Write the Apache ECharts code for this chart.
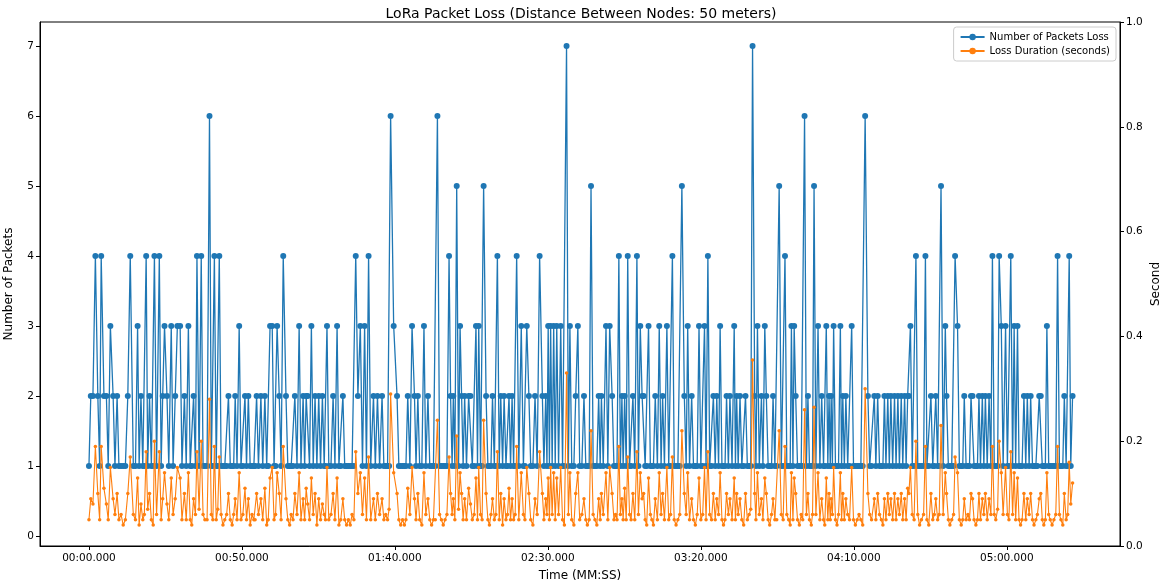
<!DOCTYPE html>
<html>
<head>
<meta charset="utf-8">
<script src="https://cdn.jsdelivr.net/npm/echarts@6/dist/echarts.min.js"></script>
<style>html,body{margin:0;padding:0;background:#fff}#c{width:1162px;height:581px}</style>
</head>
<body>
<div id="c"></div>
<script>
// time of each loss event, seconds from start
const times = [
0,0.6,1.3,2.1,2.9,3.5,4.0,4.9,5.7,6.3,
7.0,7.9,8.5,9.2,9.8,10.5,11.2,11.9,12.7,13.5,
14.5,15.2,15.9,16.4,17.0,17.6,18.1,18.7,19.2,19.8,
20.4,21.0,21.4,22.1,23.0,23.6,24.1,24.7,25.5,26.1,
26.9,27.5,28.2,28.9,29.8,30.4,31.2,31.8,32.5,33.1,
33.6,34.2,34.8,35.3,36.0,36.7,37.3,37.9,38.6,39.4,
40.0,40.5,41.0,41.6,42.1,42.6,43.2,43.8,44.4,45.0,
45.6,46.2,46.8,47.3,47.8,48.4,49.1,49.7,50.3,51.0,
51.5,52.1,52.7,53.3,53.9,54.3,54.8,55.4,56.2,56.8,
57.5,58.1,58.6,59.2,59.9,60.5,61.0,61.5,62.2,62.8,
63.5,64.4,65.0,65.6,66.1,66.7,67.3,68.0,68.7,69.3,
70.0,70.5,71.0,71.5,72.1,72.7,73.3,73.9,74.5,75.1,
75.7,76.3,76.9,77.3,77.8,78.4,79.1,79.8,80.4,81.1,
81.7,82.3,83.0,83.6,84.2,84.8,85.4,86.0,86.6,87.2,
87.9,88.7,89.4,90.1,90.7,91.4,92.1,93.0,93.6,94.3,
95.0,95.8,96.4,97.0,97.6,98.1,98.6,99.6,100.7,101.3,
101.9,102.5,103.1,103.6,104.2,104.9,105.6,106.4,106.9,107.5,
108.1,108.8,109.5,110.1,110.8,111.4,112.0,112.6,113.2,113.9,
114.6,115.2,115.8,116.4,117.0,117.7,118.2,118.7,119.1,119.6,
120.2,120.8,121.3,121.8,122.3,122.8,123.4,124.1,124.7,125.3,
125.9,126.5,127.0,127.4,128.0,128.5,129.0,129.8,130.4,130.9,
131.4,131.9,132.5,133.0,133.5,134.1,134.6,135.2,135.7,136.3,
136.8,137.3,137.8,138.3,138.8,139.3,139.8,140.5,141.3,142.0,
142.5,143.1,143.8,144.4,145.1,145.8,146.5,147.3,148.2,148.7,
149.3,149.7,150.1,150.5,150.9,151.4,151.9,152.4,152.9,153.5,
154.2,154.8,155.4,156.1,156.7,157.2,157.8,158.5,159.1,159.8,
160.4,161.1,161.8,162.4,162.9,163.5,164.1,164.8,165.4,166.0,
166.6,167.1,167.5,168.1,169.0,169.6,170.2,171.0,171.6,172.1,
172.6,173.2,173.7,174.2,174.6,175.1,175.6,176.1,176.7,177.2,
177.8,178.4,179.1,179.6,180.2,180.8,181.3,181.8,182.3,182.9,
183.5,184.0,184.5,185.1,185.8,186.4,187.0,187.5,188.1,188.9,
189.5,190.1,190.7,191.3,191.9,192.5,193.1,193.8,194.6,195.2,
195.7,196.3,197.0,197.6,198.2,198.8,199.4,200.0,200.6,201.2,
201.7,202.3,202.9,203.5,204.1,204.7,205.2,205.8,206.3,206.9,
207.4,207.9,208.4,209.0,209.5,210.2,210.9,211.3,211.7,212.2,
212.8,213.4,214.0,214.6,215.2,215.8,216.3,216.9,217.6,218.0,
218.5,219.1,219.8,220.3,220.9,221.4,222.0,222.5,223.1,223.6,
224.2,224.8,225.6,226.3,226.9,227.5,228.1,228.7,229.2,229.6,
230.1,230.5,231.0,231.6,232.2,232.8,233.3,233.9,234.5,235.0,
235.5,236.1,236.5,237.0,237.6,238.3,238.9,239.5,240.1,240.5,
241.0,241.5,241.9,242.3,242.6,243.0,243.4,244.0,244.5,245.0,
245.6,246.0,246.4,246.9,247.4,248.0,248.6,249.3,249.9,250.5,
251.1,251.7,252.3,252.9,253.7,254.6,255.2,255.8,256.7,257.2,
257.8,258.4,259.0,259.5,260.0,260.5,261.1,261.6,262.1,262.7,
263.3,263.8,264.4,264.9,265.5,266.0,266.6,267.1,267.6,268.0,
268.5,269.1,269.7,270.3,270.9,271.5,272.1,272.8,273.4,273.9,
274.5,275.2,275.8,276.3,276.8,277.4,277.9,278.5,279.2,279.9,
280.3,280.9,281.4,282.0,282.6,283.1,283.9,284.5,285.1,285.6,
286.1,286.7,287.3,287.8,288.3,288.8,289.3,289.9,290.4,290.9,
291.4,292.0,292.5,293.0,293.6,294.2,294.8,295.3,295.9,296.4,
297.0,297.5,298.2,298.8,299.6,300.2,300.7,301.3,301.9,302.4,
302.9,303.5,304.0,304.5,305.0,305.6,306.2,306.7,307.3,307.8,
308.4,308.9,309.5,310.0,310.6,311.1,311.6,312.1,312.6,313.1,
313.7,314.2,314.8,315.4,316.0,316.6,317.2,317.7,318.3,318.8,
319.4,319.9,320.4,320.9,321.5
];
// number of packets lost per event
const packetsLost = [
1,2,2,4,2,1,4,2,2,1,
3,2,1,2,1,1,1,1,2,4,
1,1,3,1,2,1,1,4,1,2,
1,1,4,1,4,1,2,3,2,1,
3,1,2,3,3,1,2,1,3,1,
1,2,1,4,1,4,1,1,1,6,
1,1,4,1,1,4,1,1,1,1,
2,1,1,1,2,1,3,1,1,2,
1,2,1,1,1,1,2,1,2,1,
2,1,1,3,3,1,1,3,2,1,
4,2,1,1,1,1,2,1,3,1,
2,1,2,2,1,3,1,2,1,2,
1,2,1,1,3,1,1,2,1,3,
1,1,2,1,1,1,1,1,1,4,
2,3,1,3,1,4,1,2,1,2,
1,2,1,1,1,1,6,3,2,1,
1,1,1,1,2,1,3,2,1,2,
1,1,3,1,2,1,1,1,1,6,
1,1,1,1,1,4,2,1,2,1,
5,1,3,2,1,2,1,2,2,1,
1,3,1,3,1,1,5,2,1,1,
1,2,1,1,4,1,2,1,2,1,
1,2,1,2,1,1,4,1,3,1,
1,3,2,1,1,2,1,4,2,1,
2,1,3,1,3,1,3,1,3,1,
3,1,1,7,1,3,1,1,2,3,
1,1,2,1,1,1,5,1,1,1,
2,1,2,1,3,1,3,2,1,1,
1,4,1,2,1,2,1,4,1,1,
2,1,4,1,3,2,2,1,1,3,
1,1,1,2,1,3,1,2,1,3,
1,1,4,1,1,1,1,5,2,1,
3,1,2,1,1,1,3,1,1,3,
1,4,1,1,2,1,2,1,3,1,
1,1,2,1,2,1,3,1,2,1,
2,1,1,2,1,1,1,7,2,1,
3,1,2,1,3,2,1,1,1,2,
1,1,5,1,1,4,1,1,1,3,
1,3,2,1,1,1,1,6,1,2,
1,1,1,5,1,3,1,2,1,1,
3,1,2,1,2,1,3,1,1,1,
3,1,2,1,2,1,1,3,1,1,
1,1,1,1,6,2,1,1,2,1,
2,1,1,1,2,1,2,1,2,1,
2,1,2,1,2,1,2,1,2,2,
3,1,1,4,1,1,1,1,4,1,
1,2,1,1,2,1,1,5,1,3,
2,1,1,1,1,4,3,1,1,1,
2,1,1,1,2,2,1,1,1,2,
1,2,1,2,1,2,1,4,1,1,
1,4,3,1,3,1,1,4,1,3,
1,3,1,1,1,2,1,2,1,2,
1,1,1,1,2,2,1,1,1,3,
1,1,1,1,1,4,1,1,1,2,
1,1,4,1,2
];
// loss duration per event, seconds
const lossDuration = [
.05,.09,.08,.19,.10,.05,.19,.11,.08,.05,
.15,.09,.06,.10,.05,.06,.04,.05,.10,.17,
.06,.05,.13,.04,.08,.05,.06,.18,.07,.10,
.05,.04,.20,.06,.18,.05,.09,.14,.08,.05,
.13,.06,.09,.15,.13,.05,.10,.05,.14,.05,
.04,.09,.06,.18,.07,.20,.06,.05,.05,.28,
.06,.05,.19,.05,.07,.17,.06,.04,.05,.06,
.10,.05,.04,.06,.09,.05,.14,.05,.06,.11,
.05,.09,.04,.06,.05,.05,.10,.06,.09,.05,
.11,.04,.05,.13,.15,.05,.06,.14,.10,.05,
.19,.09,.05,.04,.06,.05,.10,.06,.14,.05,
.09,.05,.11,.08,.05,.13,.06,.10,.04,.09,
.05,.08,.06,.05,.15,.05,.06,.10,.05,.13,
.04,.05,.09,.05,.04,.05,.04,.06,.05,.18,
.10,.14,.06,.13,.05,.17,.05,.09,.05,.10,
.06,.09,.05,.06,.05,.07,.29,.14,.10,.05,
.04,.05,.04,.05,.11,.06,.15,.09,.05,.10,
.05,.04,.14,.06,.09,.05,.04,.05,.05,.24,
.06,.05,.04,.05,.06,.17,.10,.06,.09,.05,
.21,.07,.14,.10,.05,.09,.05,.11,.08,.05,
.06,.13,.05,.15,.06,.05,.24,.10,.05,.04,
.06,.09,.05,.06,.18,.05,.10,.04,.09,.05,
.06,.11,.05,.09,.05,.06,.19,.05,.14,.06,
.05,.15,.10,.05,.04,.09,.06,.18,.10,.05,
.09,.06,.13,.05,.15,.06,.14,.05,.13,.06,
.15,.05,.04,.33,.06,.14,.05,.04,.10,.14,
.05,.06,.09,.05,.04,.05,.22,.06,.05,.04,
.09,.05,.10,.06,.14,.05,.15,.10,.05,.06,
.05,.19,.06,.09,.05,.11,.05,.17,.06,.05,
.10,.05,.18,.06,.14,.09,.10,.05,.04,.13,
.06,.05,.04,.09,.05,.14,.06,.10,.05,.15,
.05,.06,.17,.05,.04,.05,.06,.22,.10,.06,
.14,.05,.09,.05,.04,.06,.13,.05,.06,.15,
.05,.18,.06,.05,.10,.05,.09,.06,.14,.05,
.04,.05,.10,.06,.09,.05,.13,.05,.10,.06,
.09,.05,.04,.10,.05,.06,.07,.355,.10,.05,
.14,.06,.09,.05,.13,.10,.05,.04,.06,.09,
.05,.05,.22,.06,.05,.19,.06,.05,.04,.14,
.05,.13,.10,.05,.04,.06,.05,.26,.06,.10,
.05,.04,.06,.265,.06,.14,.05,.09,.05,.04,
.13,.05,.10,.05,.09,.06,.15,.05,.04,.06,
.14,.05,.10,.05,.09,.06,.05,.15,.05,.04,
.05,.06,.05,.04,.30,.10,.06,.05,.09,.05,
.10,.06,.05,.04,.09,.05,.10,.06,.09,.05,
.10,.05,.09,.06,.10,.05,.09,.05,.11,.10,
.15,.06,.05,.20,.06,.04,.05,.06,.19,.05,
.04,.10,.05,.06,.09,.05,.06,.23,.06,.14,
.10,.05,.04,.05,.06,.17,.14,.05,.04,.05,
.09,.05,.06,.05,.10,.09,.05,.04,.05,.10,
.05,.09,.06,.10,.05,.09,.06,.19,.06,.05,
.07,.20,.14,.06,.15,.06,.05,.18,.06,.14,
.05,.13,.05,.04,.05,.10,.05,.09,.06,.10,
.05,.04,.05,.06,.09,.10,.05,.04,.05,.14,
.06,.05,.04,.05,.06,.19,.06,.05,.04,.10,
.05,.06,.16,.08,.12
];
const xTickValues = [0, 50, 100, 150, 200, 250, 300];
const yLeftTickValues = [0, 1, 2, 3, 4, 5, 6, 7];

function fmtTime(v) {
  const m = Math.floor(v / 60), s = Math.round(v - m * 60);
  return String(m).padStart(2, '0') + ':' + String(s).padStart(2, '0') + '.000';
}

const chart = echarts.init(document.getElementById('c'), null, { renderer: 'canvas' });
const font = 'DejaVu Sans';
chart.setOption({
  animation: false,
  backgroundColor: '#fff',
  textStyle: { fontFamily: font },
  title: {
    text: 'LoRa Packet Loss (Distance Between Nodes: 50 meters)',
    left: 'center', top: 2,
    textStyle: { fontFamily: font, fontSize: 14, fontWeight: 'normal', color: '#000' }
  },
  legend: {
    orient: 'vertical', right: 46, top: 27,
    backgroundColor: '#fff', borderColor: '#ccc', borderWidth: 1, borderRadius: 3,
    padding: [5, 6, 5, 6], itemGap: 4, itemWidth: 24, itemHeight: 8,
    textStyle: { fontFamily: font, fontSize: 10, color: '#000' },
    data: ['Number of Packets Loss', 'Loss Duration (seconds)']
  },
  grid: { left: 40, right: 42, top: 22, bottom: 35, show: true, borderColor: '#000', borderWidth: 1, containLabel: false, outerBoundsMode: 'none' },
  xAxis: {
    type: 'value', min: -16, max: 337,
    name: 'Time (MM:SS)', nameLocation: 'middle', nameGap: 24,
    nameTextStyle: { fontFamily: font, fontSize: 12, color: '#000' },
    axisLine: { onZero: false, lineStyle: { color: '#000' } },
    axisTick: { customValues: xTickValues, length: 4, lineStyle: { color: '#000' } },
    axisLabel: { customValues: xTickValues, formatter: fmtTime, fontSize: 10.5, color: '#000', margin: 7 },
    splitLine: { show: false }
  },
  yAxis: [{
    type: 'value', min: -0.143, max: 7.343, position: 'left',
    name: 'Number of Packets', nameLocation: 'middle', nameGap: 25, nameRotate: 90,
    nameTextStyle: { fontFamily: font, fontSize: 12, color: '#000' },
    axisLine: { show: true, onZero: false, lineStyle: { color: '#000' } },
    axisTick: { show: true, customValues: yLeftTickValues, length: 4, lineStyle: { color: '#000' } },
    axisLabel: { customValues: yLeftTickValues, fontSize: 10.5, color: '#000', margin: 6 },
    splitLine: { show: false }
  }, {
    type: 'value', min: 0, max: 1, interval: 0.2, position: 'right',
    name: 'Second', nameLocation: 'middle', nameGap: 30, nameRotate: 90, nameMoveOverlap: false,
    nameTextStyle: { fontFamily: font, fontSize: 12, color: '#000' },
    axisLine: { show: true, onZero: false, lineStyle: { color: '#000' } },
    axisTick: { show: true, length: 4, lineStyle: { color: '#000' } },
    axisLabel: { formatter: v => v.toFixed(1), fontSize: 10.5, color: '#000', margin: 6 },
    splitLine: { show: false }
  }],
  series: [{
    name: 'Number of Packets Loss', type: 'line', yAxisIndex: 0,
    data: times.map((t, i) => [t, packetsLost[i]]),
    symbol: 'circle', symbolSize: 6, showAllSymbol: true,
    itemStyle: { color: '#1f77b4' },
    lineStyle: { color: '#1f77b4', width: 1.3 },
    z: 2
  }, {
    name: 'Loss Duration (seconds)', type: 'line', yAxisIndex: 1,
    data: times.map((t, i) => [t, lossDuration[i]]),
    symbol: 'circle', symbolSize: 3.5, showAllSymbol: true,
    itemStyle: { color: '#ff7f0e' },
    lineStyle: { color: '#ff7f0e', width: 1.1 },
    z: 3
  }]
});
</script>
</body>
</html>
